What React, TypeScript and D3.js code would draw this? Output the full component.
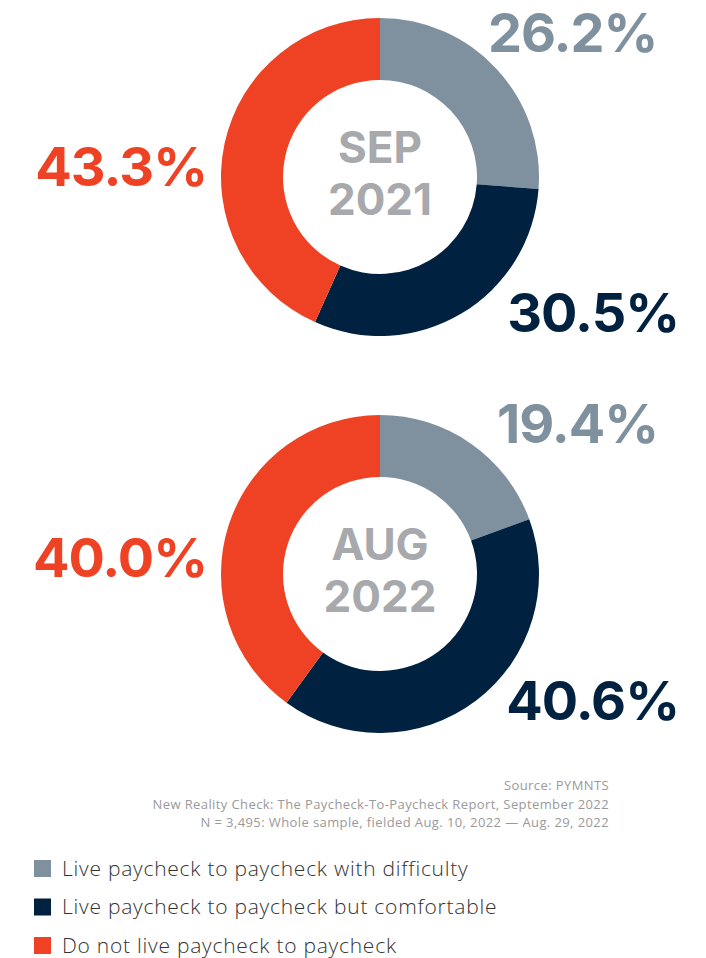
import React from "react";
import * as d3 from "d3";

const categories = [
  "Live paycheck to paycheck with difficulty",
  "Live paycheck to paycheck but comfortable",
  "Do not live paycheck to paycheck",
];
const colors = ["#7f919e", "#00213f", "#ef4123"];
const periods = [
  ["SEP", "2021"],
  ["AUG", "2022"],
];
const valuesSep2021 = [26.2, 30.5, 43.3];
const valuesAug2022 = [19.4, 40.6, 40.0];
const sourceLines = [
  "Source: PYMNTS",
  "New Reality Check: The Paycheck-To-Paycheck Report, September 2022",
  "N = 3,495: Whole sample, fielded Aug. 10, 2022 — Aug. 29, 2022",
];

const W = 706;
const H = 958;
const bold = "Inter, 'Open Sans', sans-serif";
const light = "'Open Sans', Lato, sans-serif";

const labelPos = [
  [
    { x: 488, y: 52, a: "start" },
    { x: 679, y: 332, a: "end" },
    { x: 207, y: 186, a: "end" },
  ],
  [
    { x: 497, y: 443, a: "start" },
    { x: 679, y: 720, a: "end" },
    { x: 207, y: 577, a: "end" },
  ],
];

function Donut({ values, cy, idx }: { values: number[]; cy: number; idx: number }) {
  const pie = d3.pie<number>().sort(null).value((d) => d);
  const arc = d3.arc<d3.PieArcDatum<number>>().innerRadius(97).outerRadius(159);
  const arcs = pie(values);
  return (
    <g>
      <g transform={`translate(380,${cy})`}>
        {arcs.map((a, i) => (
          <path key={i} d={arc(a) || ""} fill={colors[i]} />
        ))}
        <text x={0} y={-14} textAnchor="middle" fontFamily={bold} fontWeight={700} fontSize={44} fill="#a7a9ac">
          {periods[idx][0]}
        </text>
        <text x={0} y={38} textAnchor="middle" fontFamily={bold} fontWeight={700} fontSize={44} fill="#a7a9ac">
          {periods[idx][1]}
        </text>
      </g>
      {values.map((v, i) => (
        <text
          key={i}
          x={labelPos[idx][i].x}
          y={labelPos[idx][i].y}
          textAnchor={labelPos[idx][i].a as any}
          fontFamily={bold}
          fontWeight={700}
          fontSize={54}
          fill={colors[i]}
          letterSpacing={-1}
        >
          {v.toFixed(1)}%
        </text>
      ))}
    </g>
  );
}

export default function App() {
  return (
    <svg width={W} height={H} style={{ position: "absolute", left: 0, top: 0, background: "#fff" }}>
      <Donut values={valuesSep2021} cy={177} idx={0} />
      <Donut values={valuesAug2022} cy={574} idx={1} />
      {sourceLines.map((s, i) => (
        <text key={i} x={609} y={790 + i * 18.5} textAnchor="end" fontFamily={light} fontWeight={400} fontSize={13} letterSpacing={0.4} fill="#9a9a9a">
          {s}
        </text>
      ))}
      {categories.map((c, i) => (
        <g key={i} transform={`translate(0,${860 + i * 38.5})`}>
          <rect x={34} y={0} width={17} height={17} fill={colors[i]} />
          <text x={62} y={15.5} fontFamily={light} fontWeight={300} fontSize={21} letterSpacing={0.75} fill="#333">
            {c}
          </text>
        </g>
      ))}
    </svg>
  );
}
